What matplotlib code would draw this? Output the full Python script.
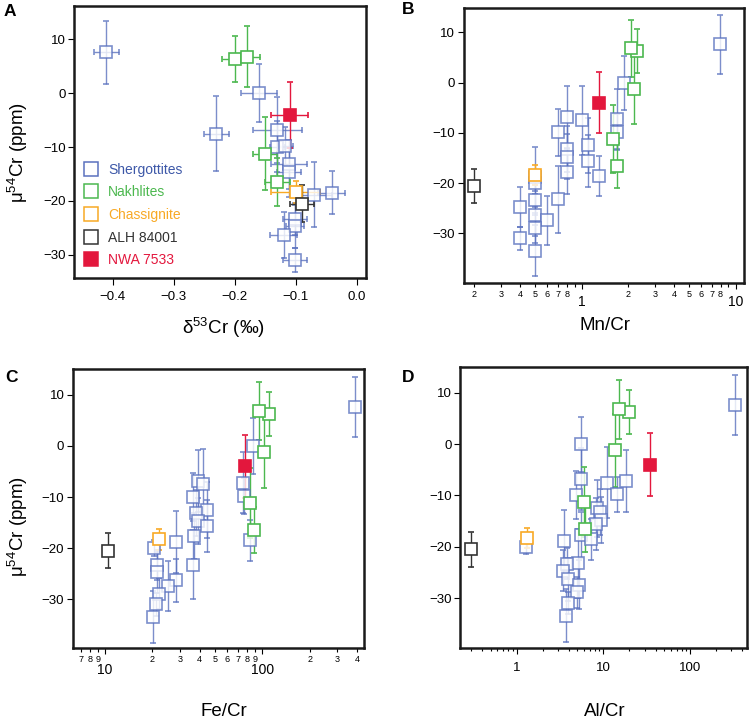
import numpy as np
import matplotlib
matplotlib.use("Agg")
import matplotlib.pyplot as plt
from matplotlib.ticker import LogLocator, FuncFormatter, MultipleLocator, NullFormatter
from matplotlib.lines import Line2D

plt.rcParams['font.family'] = ['Liberation Sans', 'DejaVu Sans']
plt.rcParams['axes.unicode_minus'] = True

nan = np.nan

# Shergottites
sher_mu = [7.6, 0.0, -6.8, -7.5, -7.2, -9.9, -9.8, -12.5, -13.2, -14.7, -15.6, -17.7,
           -18.5, -18.8, -20.0, -23.2, -23.3, -24.7, -26.3, -27.4, -28.9, -31.0, -33.4]
sher_err = [5.9, 5.4, 6.1, 6.9, 6.0, 4.7, 3.5, 5.5, 4.5, 4.5, 5.1, 4.5,
            4.0, 6.0, 1.5, 6.7, 3.0, 4.0, 4.2, 4.8, 3.0, 2.2, 5.1]
sher_d53 = [-0.41, -0.16, -0.13, -0.23, nan, -0.13, -0.117, nan, -0.111, -0.111, nan, nan,
            -0.041, -0.07, nan, nan, -0.101, -0.101, -0.12, nan, nan, -0.101, nan]
sher_d53_err = [0.02, 0.03, 0.04, 0.02, nan, 0.012, 0.012, nan, 0.03, 0.02, nan, nan,
                0.022, 0.03, nan, nan, 0.02, 0.015, 0.022, nan, nan, 0.02, nan]
sher_mncr = [7.9, 1.89, 0.80, 1.0, 1.70, 0.70, 1.70, 1.105, 0.80, 0.80, 1.105, 0.80,
             1.30, 0.50, 0.50, 0.70, 0.50, 0.40, 0.50, 0.60, 0.50, 0.40, 0.50]
sher_fecr = [385, 87.7, 38.8, 41.8, 75, 36, 77, 44.3, 37.8, 39, 44.3, 37,
             84, 28.2, 20.5, 36, 21.3, 21.3, 28.2, 25.3, 22.1, 21.2, 20.2]
sher_alcr = [330, 5.5, 5.6, 11.0, 18.4, 4.9, 14.3, 8.5, 9.2, 9.5, 8.3, 5.5,
             7.3, 3.5, 1.3, 5.1, 3.8, 3.45, 3.9, 5.3, 5.0, 3.9, 3.7]

# Nakhlites
nak_mu = [6.3, 6.8, -1.2, -11.2, -16.5]
nak_err = [4.3, 5.7, 7.1, 6.8, 4.5]
nak_d53 = [-0.20, -0.18, nan, -0.15, -0.13]
nak_d53_err = [0.02, 0.021, nan, 0.02, 0.02]
nak_mncr = [2.3, 2.1, 2.2, 1.6, 1.7]
nak_fecr = [110, 95, 103, 83, 88]
nak_alcr = [20, 15.3, 13.6, 6.0, 6.1]

# Chassignite
cha_mu = [-18.3]
cha_err = [2.0]
cha_d53 = [-0.10]
cha_d53_err = [0.04]
cha_mncr = [0.5]
cha_fecr = [22.1]
cha_alcr = [1.33]

# ALH 84001
alh_mu = [-20.5]
alh_err = [3.4]
alh_d53 = [-0.09]
alh_d53_err = [0.02]
alh_mncr = [0.2]
alh_fecr = [10.5]
alh_alcr = [0.3]

# NWA 7533
nwa_mu = [-4.0]
nwa_err = [6.1]
nwa_d53 = [-0.11]
nwa_d53_err = [0.03]
nwa_mncr = [1.3]
nwa_fecr = [78]
nwa_alcr = [34.5]

c_sher = '#5b72bf'
c_nak = '#4cb84f'
c_cha = '#f8a925'
c_alh = '#333333'
c_nwa = '#e3173d'

groups = [
    ('Shergottites', c_sher, sher_mu, sher_err, sher_d53, sher_d53_err, sher_mncr, sher_fecr, sher_alcr),
    ('Nakhlites', c_nak, nak_mu, nak_err, nak_d53, nak_d53_err, nak_mncr, nak_fecr, nak_alcr),
    ('Chassignite', c_cha, cha_mu, cha_err, cha_d53, cha_d53_err, cha_mncr, cha_fecr, cha_alcr),
    ('ALH 84001', c_alh, alh_mu, alh_err, alh_d53, alh_d53_err, alh_mncr, alh_fecr, alh_alcr),
    ('NWA 7533', c_nwa, nwa_mu, nwa_err, nwa_d53, nwa_d53_err, nwa_mncr, nwa_fecr, nwa_alcr),
]

fig = plt.figure(figsize=(7.5, 7.21), dpi=100)
axA = fig.add_axes([0.0987, 0.6144, 0.3893, 0.3773])
axB = fig.add_axes([0.618, 0.6079, 0.3744, 0.3806])
axC = fig.add_axes([0.0969, 0.1008, 0.3884, 0.3870])
axD = fig.add_axes([0.6137, 0.1008, 0.3827, 0.3898])


def draw(ax, col, with_xerr=False):
    for g in groups:
        name, color, mu, err, d53e = g[0], g[1], g[2], g[3], g[5]
        x = g[col]
        face = color if name == 'NWA 7533' else 'white'
        alpha = 0.8 if name == 'Shergottites' else 1.0
        ax.errorbar(x, mu, yerr=err, xerr=d53e if with_xerr else None,
                    fmt='s', ms=8.7, mfc=face, mec=color, mew=1.2,
                    ecolor=color, elinewidth=1.0, capsize=2.5, capthick=1.0,
                    alpha=alpha, zorder=3)


draw(axA, 4, with_xerr=True)
draw(axB, 6)
draw(axC, 7)
draw(axD, 8)

axA.set_xlim(-0.463, 0.015)
axA.set_ylim(-34.3, 16.2)
axB.set_xlim(0.171, 11.4)
axB.set_ylim(-39.8, 14.8)
axC.set_xlim(6.24, 442)
axC.set_ylim(-39.6, 15)
axD.set_xlim(0.224, 458)
axD.set_ylim(-39.8, 15)

for ax in (axB, axC, axD):
    ax.set_xscale('log')


def digit(v, pos, skip9=False):
    d = int(round(v / 10 ** np.floor(np.log10(v) + 1e-9)))
    if skip9 and d == 9:
        return ''
    return str(d)


for ax in (axA, axB, axC, axD):
    for s in ax.spines.values():
        s.set_linewidth(1.8)
        s.set_color('#1a1a1a')
    ax.yaxis.set_major_locator(MultipleLocator(10))
    ax.tick_params(axis='y', which='major', direction='out', length=4, width=0.8,
                   labelsize=9.5, pad=2)
    ax.tick_params(axis='x', which='both', direction='out', width=0.8)

axA.xaxis.set_major_locator(MultipleLocator(0.1))
axA.tick_params(axis='x', which='major', length=5, labelsize=9.5, pad=4)

for ax, skip, mpad in ((axB, True, 4.9), (axC, False, 6.6)):
    ax.xaxis.set_major_locator(LogLocator(base=10))
    ax.xaxis.set_minor_locator(LogLocator(base=10, subs=np.arange(2, 10)))
    ax.xaxis.set_major_formatter(FuncFormatter(lambda v, p: f"{v:g}"))
    ax.xaxis.set_minor_formatter(FuncFormatter(lambda v, p, s=skip: digit(v, p, s)))
    ax.tick_params(axis='x', which='major', length=4, labelsize=10, pad=mpad)
    ax.tick_params(axis='x', which='minor', length=3, labelsize=6.5, pad=2)

axD.xaxis.set_major_locator(LogLocator(base=10))
axD.xaxis.set_minor_locator(LogLocator(base=10, subs=np.arange(2, 10)))
axD.xaxis.set_major_formatter(FuncFormatter(lambda v, p: f"{v:g}"))
axD.xaxis.set_minor_formatter(NullFormatter())
axD.tick_params(axis='x', which='major', length=4, labelsize=9.5, pad=5.9)
axD.tick_params(axis='x', which='minor', length=2.5)

# axis labels
ylab = 'μ$^{\\mathregular{54}}$Cr (ppm)'
fig.text(0.024, 1 - 153 / 721, ylab, rotation=90, ha='center', va='center', fontsize=13.5)
fig.text(0.024, 1 - 527 / 721, ylab, rotation=90, ha='center', va='center', fontsize=13.5)
fig.text(223 / 750, 1 - 328 / 721, 'δ$^{\\mathregular{53}}$Cr (‰)', ha='center', va='center', fontsize=13.5)
fig.text(605 / 750, 1 - 326 / 721, 'Mn/Cr', ha='center', va='center', fontsize=13.5)
fig.text(224 / 750, 1 - 712 / 721, 'Fe/Cr', ha='center', va='center', fontsize=13.5)
fig.text(605 / 750, 1 - 712 / 721, 'Al/Cr', ha='center', va='center', fontsize=13.5)

# panel letters
for lbl, px, py in (('A', 10, 12), ('B', 408, 10), ('C', 12, 378), ('D', 408, 378)):
    fig.text(px / 750, 1 - py / 721, lbl, ha='center', va='center',
             fontsize=12.5, fontweight='bold')

# legend
handles = []
for g in groups:
    face = g[1] if g[0] == 'NWA 7533' else 'white'
    handles.append(Line2D([], [], ls='none', marker='s', ms=9.5, mfc=face,
                          mec=g[1], mew=1.1))
leg = axA.legend(handles, [g[0] for g in groups], loc='lower left',
                 bbox_to_anchor=(0.035, 0.04), frameon=False, fontsize=10,
                 handlelength=1.0, handletextpad=0.7, labelspacing=0.62,
                 borderpad=0, borderaxespad=0)
for t, g in zip(leg.get_texts(), groups):
    t.set_color(g[1] if g[0] != 'Shergottites' else '#3d58a8')

fig.savefig('out.png', dpi=100)
